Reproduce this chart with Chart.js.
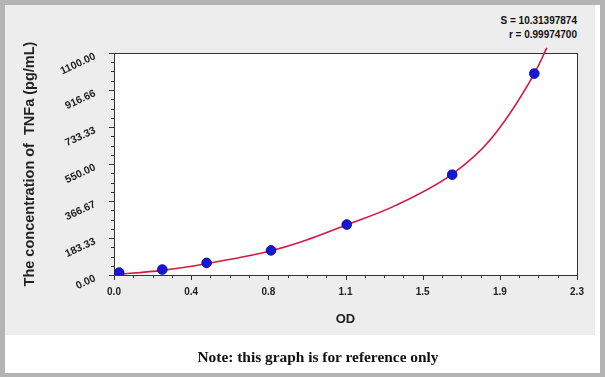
<!DOCTYPE html>
<html>
<head>
<meta charset="utf-8">
<script src="https://cdn.jsdelivr.net/npm/chart.js@4/dist/chart.umd.min.js"></script>
<style>
  html, body { margin: 0; padding: 0; }
  body { width: 605px; height: 377px; position: relative; overflow: hidden; background: #b4b4b4; }
  #sheet { position: absolute; left: 5px; top: 5px; width: 595px; height: 368px; background: #ffffff; }
  #panel { position: absolute; left: 5px; top: 5px; width: 590px; height: 330px; background: #ededed; }
  #wrap { position: absolute; left: 0; top: 0; width: 605px; height: 377px; }
  .stat { position: absolute; right: 28px; font: bold 10px "Liberation Sans", Arial, sans-serif; color: #111; text-align: right; }
  #note { position: absolute; left: 318px; top: 348px; transform: translateX(-50%); white-space: nowrap;
          font: bold 15.4px "Liberation Serif", "Times New Roman", serif; color: #111; }
</style>
</head>
<body>
<div id="sheet"></div>
<div id="panel"></div>
<div class="stat" style="top:15px">S = 10.31397874</div>
<div class="stat" style="top:29px">r = 0.99974700</div>
<div id="wrap"><canvas id="chart" width="605" height="377"></canvas></div>
<div id="note">Note: this graph is for reference only</div>

<script>
// standards
const odValues = [0.026, 0.24, 0.46, 0.78, 1.156, 1.68, 2.088];
const concValues = [12, 27, 60, 122, 250, 497, 998];

// fitted curve, read at points along the red line
const curveOd = [0, 0.24, 0.46, 0.78, 0.924, 1.156, 1.4, 1.68, 1.868, 2.088, 2.15];
const curveConc = [2, 23, 56, 120, 162, 248, 345, 500, 669, 998, 1125];

const xTickLabels = ['0.0', '0.4', '0.8', '1.1', '1.5', '1.9', '2.3'];
const yTickLabels = ['0.00', '183.33', '366.67', '550.00', '733.33', '916.66', '1100.00'];

const X_MAX = 2.3;
const Y_MAX = 1100;

// white plot area, frame and major/minor ticks
const framePlugin = {
  id: 'frame',
  beforeDraw(chart) {
    const { ctx, chartArea: a } = chart;
    ctx.save();
    ctx.fillStyle = '#ffffff';
    ctx.fillRect(a.left, a.top, a.right - a.left, a.bottom - a.top);
    ctx.restore();
  },
  beforeDatasetsDraw(chart) {
    const { ctx, chartArea: a, scales } = chart;
    ctx.save();
    ctx.strokeStyle = '#333333';
    ctx.lineWidth = 1;
    ctx.strokeRect(Math.round(a.left) + 0.5, Math.round(a.top) + 0.5,
      Math.round(a.right - a.left), Math.round(a.bottom - a.top));
    ctx.beginPath();
    for (let i = 0; i <= 24; i++) {
      const len = i % 4 === 0 ? 5 : 3;
      const px = Math.round(scales.x.getPixelForValue(X_MAX * i / 24)) + 0.5;
      ctx.moveTo(px, Math.round(a.bottom));
      ctx.lineTo(px, Math.round(a.bottom) + len);
      const py = Math.round(scales.y.getPixelForValue(Y_MAX * i / 24)) + 0.5;
      ctx.moveTo(Math.round(a.left), py);
      ctx.lineTo(Math.round(a.left) - len, py);
    }
    ctx.stroke();
    ctx.restore();
  }
};

const ctx = document.getElementById('chart').getContext('2d');
new Chart(ctx, {
  type: 'scatter',
  data: {
    datasets: [
      {
        label: 'fit',
        data: curveOd.map((x, i) => ({ x, y: curveConc[i] })),
        showLine: true,
        borderColor: '#d6173e',
        borderWidth: 1.6,
        pointRadius: 0,
        cubicInterpolationMode: 'monotone',
        clip: false,
        order: 2
      },
      {
        label: 'standards',
        data: odValues.map((x, i) => ({ x, y: concValues[i] })),
        pointRadius: 4.8,
        pointBackgroundColor: '#1616d6',
        pointBorderColor: '#0c0ca8',
        pointBorderWidth: 1,
        order: 1
      }
    ]
  },
  options: {
    responsive: false,
    animation: false,
    layout: { padding: { left: 0, top: 53, right: 28, bottom: 0 } },
    plugins: {
      legend: { display: false },
      tooltip: { enabled: false }
    },
    scales: {
      x: {
        type: 'linear',
        min: 0,
        max: X_MAX,
        afterBuildTicks: (s) => { s.ticks = xTickLabels.map((_, i) => ({ value: X_MAX * i / 6 })); },
        afterFit: (s) => { s.height = 102; },
        grid: { display: false, drawTicks: false },
        border: { display: false },
        ticks: {
          autoSkip: false,
          maxRotation: 0,
          padding: 11,
          color: '#222',
          font: { family: '"Liberation Sans", Arial, sans-serif', size: 10, weight: 'bold' },
          callback: (v, i) => xTickLabels[i]
        },
        title: {
          display: true,
          text: 'OD',
          color: '#222',
          padding: { top: 0, bottom: 50 },
          font: { family: '"Liberation Sans", Arial, sans-serif', size: 13, weight: 'bold' }
        }
      },
      y: {
        type: 'linear',
        min: 0,
        max: Y_MAX,
        afterBuildTicks: (s) => { s.ticks = yTickLabels.map((_, i) => ({ value: Y_MAX * i / 6 })); },
        afterFit: (s) => { s.width = 114; },
        grid: { display: false, drawTicks: false },
        border: { display: false },
        ticks: {
          autoSkip: false,
          minRotation: 25,
          maxRotation: 25,
          padding: 19,
          labelOffset: 3,
          color: '#222',
          font: { family: '"Liberation Sans", Arial, sans-serif', size: 10.5, weight: 'bold' },
          callback: (v, i) => yTickLabels[i]
        },
        title: {
          display: true,
          text: 'The concentration of  TNFa (pg/mL)',
          color: '#222',
          padding: { top: 21, bottom: 0 },
          font: { family: '"Liberation Sans", Arial, sans-serif', size: 14.5, weight: 'bold' }
        }
      }
    }
  },
  plugins: [framePlugin]
});
</script>
</body>
</html>
